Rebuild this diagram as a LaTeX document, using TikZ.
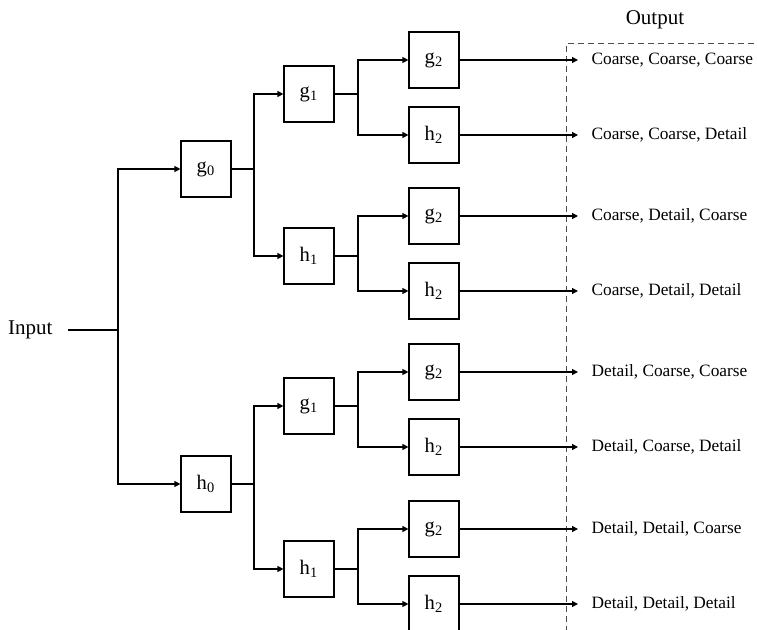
\documentclass[tikz,border=0pt]{standalone}
\usepackage{fontspec}
\setmainfont{Liberation Serif}
\usetikzlibrary{arrows.meta}
\newcommand{\blab}[2]{#1\textsubscript{#2}}
\begin{document}
\begin{tikzpicture}[x=0.5pt,y=-0.5pt, line width=0.6pt,
 blk/.style={draw, minimum width=25pt, minimum height=28pt, inner sep=0pt, font=\fontsize{10.3}{12}\selectfont},
 arr/.style={-{Triangle[length=3pt,width=3pt]}},
 outl/.style={anchor=west, inner xsep=6.5pt, inner ysep=0pt, font=\fontsize{8.65}{10}\selectfont},
 lab/.style={font=\fontsize{10.5}{12}\selectfont},
 frame/.style={densely dashed, line width=0.5pt, draw=black!70}]
\useasboundingbox (0,0) rectangle (757,630);

% Input / Output labels
\node[lab, anchor=east, inner xsep=7.5pt] (in) at (68,330) {Input};
\node[lab] (outhead) at (655,20) {Output};

% junction coordinates
\coordinate (j0) at (118,330);
\coordinate (ja) at (254,169);
\coordinate (jb) at (254,484);
\coordinate (jc) at (358,94);
\coordinate (jd) at (358,256);
\coordinate (je) at (358,406);
\coordinate (jf) at (358,569);

% level 0
\node[blk] (g0) at (206,169) {\blab{g}{0}};
\node[blk] (h0) at (206,484) {\blab{h}{0}};
% level 1
\node[blk] (g1a) at (309,94) {\blab{g}{1}};
\node[blk] (h1a) at (309,256) {\blab{h}{1}};
\node[blk] (g1b) at (309,406) {\blab{g}{1}};
\node[blk] (h1b) at (309,569) {\blab{h}{1}};
% level 2
\node[blk] (g2a) at (434,60) {\blab{g}{2}};
\node[blk] (h2a) at (434,135) {\blab{h}{2}};
\node[blk] (g2b) at (434,216) {\blab{g}{2}};
\node[blk] (h2b) at (434,291) {\blab{h}{2}};
\node[blk] (g2c) at (434,372) {\blab{g}{2}};
\node[blk] (h2c) at (434,447) {\blab{h}{2}};
\node[blk] (g2d) at (434,529) {\blab{g}{2}};
\node[blk] (h2d) at (434,604) {\blab{h}{2}};

% outputs
\node[outl] (o1) at (578,60) {Coarse, Coarse, Coarse};
\node[outl] (o2) at (578,135) {Coarse, Coarse, Detail};
\node[outl] (o3) at (578,216) {Coarse, Detail, Coarse};
\node[outl] (o4) at (578,291) {Coarse, Detail, Detail};
\node[outl] (o5) at (578,372) {Detail, Coarse, Coarse};
\node[outl] (o6) at (578,447) {Detail, Coarse, Detail};
\node[outl] (o7) at (578,529) {Detail, Detail, Coarse};
\node[outl] (o8) at (578,604) {Detail, Detail, Detail};

% dashed output frame
\draw[frame] (566,632) -- (566,44) -- (760,44);

% connectors
\draw (in.east) -- (j0);
\draw[arr] (j0) |- (g0.west);
\draw[arr] (j0) |- (h0.west);

\draw (g0.east) -- (ja);
\draw[arr] (ja) |- (g1a.west);
\draw[arr] (ja) |- (h1a.west);
\draw (h0.east) -- (jb);
\draw[arr] (jb) |- (g1b.west);
\draw[arr] (jb) |- (h1b.west);

\draw (g1a.east) -- (jc);
\draw[arr] (jc) |- (g2a.west);
\draw[arr] (jc) |- (h2a.west);
\draw (h1a.east) -- (jd);
\draw[arr] (jd) |- (g2b.west);
\draw[arr] (jd) |- (h2b.west);
\draw (g1b.east) -- (je);
\draw[arr] (je) |- (g2c.west);
\draw[arr] (je) |- (h2c.west);
\draw (h1b.east) -- (jf);
\draw[arr] (jf) |- (g2d.west);
\draw[arr] (jf) |- (h2d.west);

\draw[arr] (g2a.east) -- (o1.west);
\draw[arr] (h2a.east) -- (o2.west);
\draw[arr] (g2b.east) -- (o3.west);
\draw[arr] (h2b.east) -- (o4.west);
\draw[arr] (g2c.east) -- (o5.west);
\draw[arr] (h2c.east) -- (o6.west);
\draw[arr] (g2d.east) -- (o7.west);
\draw[arr] (h2d.east) -- (o8.west);
\end{tikzpicture}
\end{document}
